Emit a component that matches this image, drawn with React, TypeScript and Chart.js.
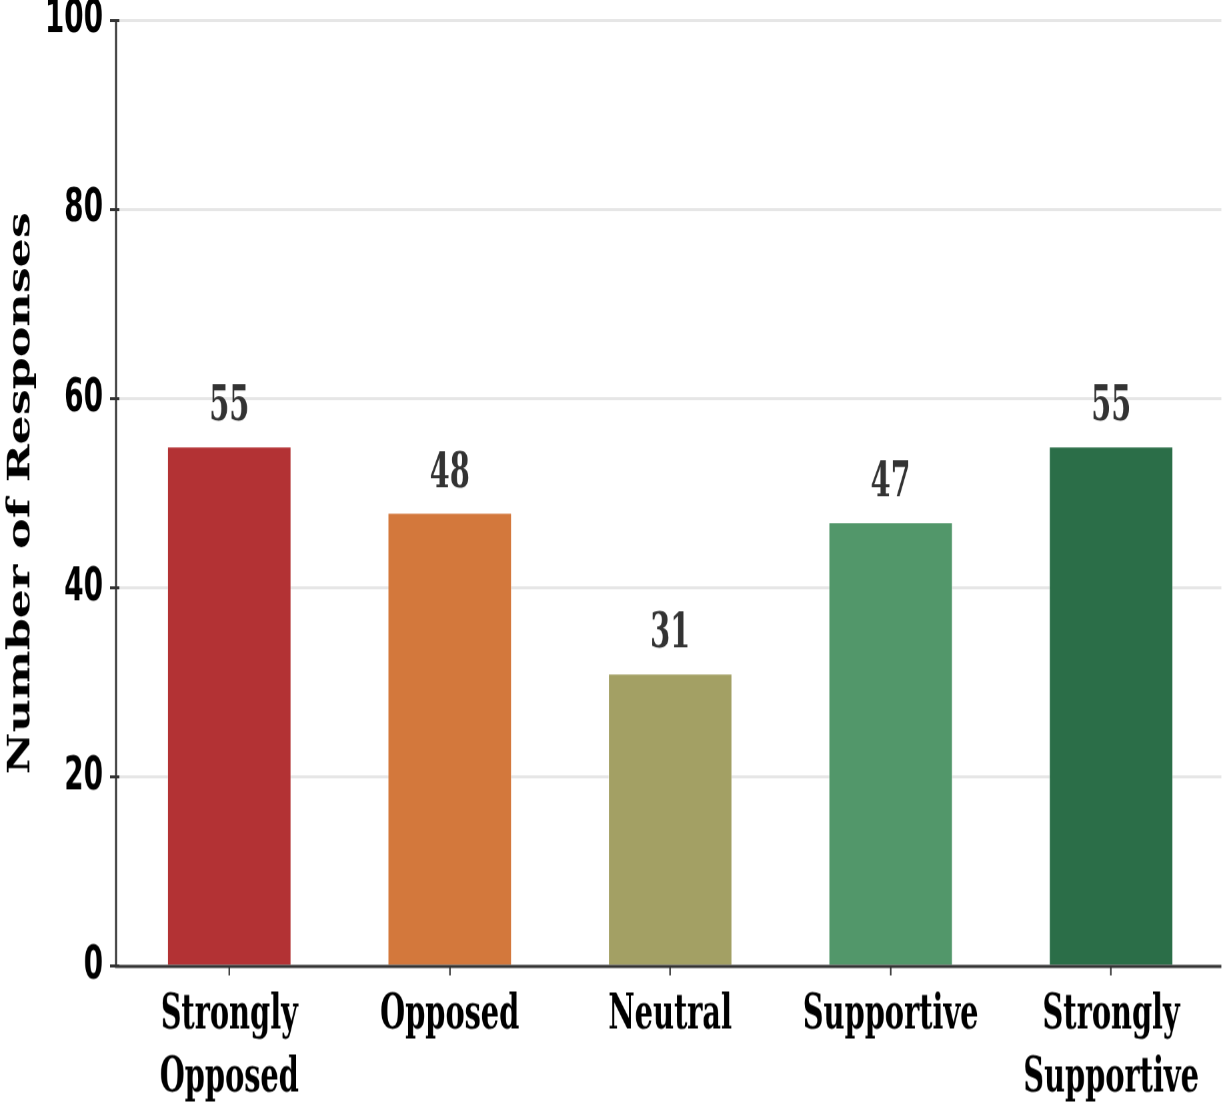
import React, { useEffect, useRef } from "react";
import { Chart, registerables } from "chart.js";

Chart.register(...registerables);

const categories: string[][] = [
  ["Strongly", "Opposed"],
  ["Opposed"],
  ["Neutral"],
  ["Supportive"],
  ["Strongly", "Supportive"],
];
const responses: number[] = [55, 48, 31, 47, 55];
const barColors: string[] = ["#B33234", "#D3783C", "#A3A064", "#52976A", "#2B6E48"];
const yMin = 0;
const yMax = 100;
const yStep = 20;
const yTitle = "Number of Responses";

const SCALE_Y = 1.5;
const W = 1229;
const H = 1106 / SCALE_Y;
const PLOT_TOP = 18 / SCALE_Y;
const PLOT_BOTTOM = 966 / SCALE_Y;
const AXIS_X = 116;
const AREA_LEFT = 119;

const valueLabelPlugin = {
  id: "valueLabels",
  afterDatasetsDraw(chart: any) {
    const ctx = chart.ctx;
    const area = chart.chartArea;
    const meta = chart.getDatasetMeta(0);
    ctx.save();
    // axis spines
    ctx.strokeStyle = "#333333";
    ctx.lineWidth = 2;
    ctx.beginPath();
    ctx.moveTo(AXIS_X, area.top);
    ctx.lineTo(AXIS_X, area.bottom);
    ctx.moveTo(AXIS_X - 1, area.bottom);
    ctx.lineTo(area.right, area.bottom);
    ctx.stroke();
    // value labels
    ctx.font = "bold 32px 'DejaVu Serif Condensed', 'DejaVu Serif', serif";
    ctx.fillStyle = "#333333";
    ctx.textAlign = "center";
    ctx.textBaseline = "alphabetic";
    meta.data.forEach((bar: any, i: number) => {
      ctx.fillText(String(responses[i]), bar.x, bar.y - 17);
    });
    ctx.restore();
  },
};

export default function App() {
  const canvasRef = useRef<HTMLCanvasElement | null>(null);

  useEffect(() => {
    if (!canvasRef.current) return;
    const chart = new Chart(canvasRef.current, {
      type: "bar",
      data: {
        labels: categories,
        datasets: [
          {
            data: responses,
            backgroundColor: barColors,
            borderColor: "rgba(255,255,255,0.35)",
            borderWidth: 1,
            barPercentage: 0.565,
            categoryPercentage: 1,
          },
        ],
      },
      options: {
        animation: false,
        responsive: true,
        maintainAspectRatio: false,
        devicePixelRatio: 1.5,
        layout: { padding: { top: PLOT_TOP, right: W - 1221, left: 0, bottom: 0 } },
        plugins: {
          legend: { display: false },
          tooltip: { enabled: false },
        },
        scales: {
          x: {
            afterFit: (scale: any) => {
              scale.height = H - PLOT_BOTTOM;
            },
            grid: {
              display: true,
              drawOnChartArea: false,
              drawTicks: true,
              offset: false,
              tickLength: 6,
              tickColor: "#333333",
              tickWidth: 1.5,
            },
            border: { display: false },
            ticks: {
              color: "#000000",
              padding: 6,
              font: {
                family: "'DejaVu Serif Condensed', 'DejaVu Serif', serif",
                size: 32,
                weight: "bold",
                lineHeight: 1.31,
              },
            },
          },
          y: {
            min: yMin,
            max: yMax,
            afterFit: (scale: any) => {
              scale.width = AREA_LEFT;
            },
            grid: {
              color: "#e6e6e6",
              lineWidth: 2,
              drawTicks: true,
              tickLength: 9,
              tickColor: "#333333",
              tickWidth: 2,
            },
            border: { display: false },
            ticks: {
              stepSize: yStep,
              color: "#000000",
              padding: 7,
              font: {
                family: "'DejaVu Sans Condensed', 'DejaVu Sans', sans-serif",
                size: 31,
                weight: "bold",
                lineHeight: 0.42,
              },
            },
            title: {
              display: true,
              text: yTitle,
              color: "#000000",
              padding: { top: 3, bottom: 0 },
              font: {
                family: "'DejaVu Serif', serif",
                size: 30.6,
                weight: "bold",
                lineHeight: 1.2,
              },
            },
          },
        },
      },
      plugins: [valueLabelPlugin],
    });
    return () => chart.destroy();
  }, []);

  return (
    <div
      style={{
        position: "absolute",
        left: 0,
        top: 0,
        width: W,
        height: 1106,
        overflow: "hidden",
        background: "#ffffff",
      }}
    >
      <div
        style={{
          width: W,
          height: H,
          transform: `scaleY(${SCALE_Y})`,
          transformOrigin: "0 0",
          position: "relative",
        }}
      >
        <canvas ref={canvasRef} />
      </div>
    </div>
  );
}
